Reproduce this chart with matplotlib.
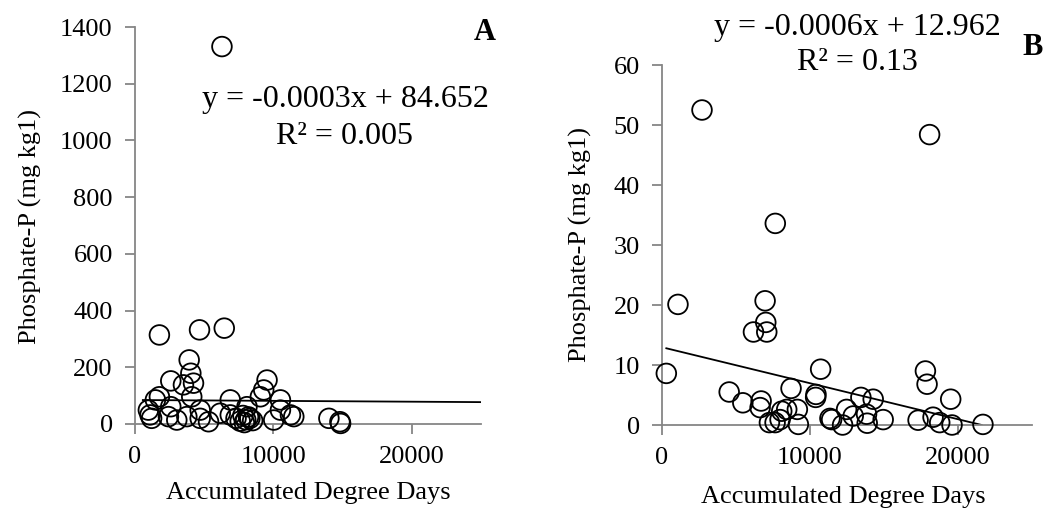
import matplotlib
matplotlib.use("Agg")
import matplotlib.pyplot as plt
import numpy as np

plt.rcParams['font.family'] = ['Liberation Serif', 'DejaVu Serif']

# Panel A: accumulated degree days vs phosphate-P
a_x = [6283, 1763, 4662, 6449, 3913, 4034, 4227, 2585, 3500, 1763, 1473, 966, 1087,
       1200, 4100, 2585, 2415, 3019, 3744, 4710, 4710, 5314, 6159, 6884, 6884, 7300,
       7600, 7800, 8000, 8092, 8300, 8500, 7900, 8200, 9058, 9300, 9541, 10507, 10507,
       10024, 11232, 11473, 14010, 14807, 14855]
a_y = [1331, 314, 332, 338, 226, 179, 144, 152, 138, 96, 85, 49, 32,
       20, 96, 61, 26, 14, 26, 49, 20, 8, 38, 85, 32, 20,
       10, 30, 15, 61, 20, 12, 5, 25, 96, 120, 155, 85, 49,
       14, 32, 26, 20, 8, 2]

# Panel B
b_x = [292, 1079, 2703, 4539, 5461, 6180, 6966, 7011, 7079, 6697, 6629, 7258, 7640,
       7655, 7978, 8090, 8427, 8719, 9146, 9213, 10404, 10382, 10719, 11348, 11460,
       12202, 12472, 12921, 13438, 13820, 13865, 14270, 14944, 17303, 17798, 17910,
       18081, 18315, 18764, 19506, 19596, 21685]
b_y = [8.6, 20.1, 52.5, 5.5, 3.7, 15.5, 20.7, 17.1, 15.5, 4.0, 2.9, 0.4, 0.4,
       33.6, 0.9, 2.3, 2.6, 6.1, 2.6, 0.1, 5.1, 4.6, 9.3, 1.1, 0.9,
       0.0, 2.6, 1.5, 4.6, 1.8, 0.3, 4.3, 0.9, 0.8, 9.0, 6.8,
       48.4, 1.3, 0.4, 4.3, 0.0, 0.1]

a_slope, a_icpt, a_r2 = -0.0003, 84.652, 0.005
b_slope, b_icpt, b_r2 = -0.0006, 12.962, 0.13

W, H = 1049, 508
fig = plt.figure(figsize=(W / 100, H / 100), dpi=100)

def px(x0, y0, x1, y1):
    return [x0 / W, 1 - y1 / H, (x1 - x0) / W, (y1 - y0) / H]

ax1 = fig.add_axes(px(135, 27, 481, 424))
ax2 = fig.add_axes(px(662, 65, 1032, 425))

fs = 19
fs_eq = 23
gray = '#868686'

def style(ax, ymax, ystep):
    ax.set_xlim(0, 25000)
    ax.set_ylim(0, ymax)
    ax.set_xticks([0, 10000, 20000])
    ax.set_yticks(np.arange(0, ymax + 1, ystep))
    for s in ['top', 'right']:
        ax.spines[s].set_visible(False)
    for s in ['left', 'bottom']:
        ax.spines[s].set_color(gray)
        ax.spines[s].set_linewidth(1.3)
    ax.tick_params(axis='both', colors=gray, labelcolor='black', labelsize=fs,
                   length=7, width=1.3, direction='out', pad=9)
    ax.patch.set_alpha(0)

style(ax1, 1400, 200)
style(ax2, 60, 10)

ax1.scatter(a_x, a_y, s=200, facecolors='none', edgecolors='black', linewidths=1.3,
            zorder=3, clip_on=False)
ax2.scatter(b_x, b_y, s=200, facecolors='none', edgecolors='black', linewidths=1.3,
            zorder=3, clip_on=False)

xa = np.array([min(a_x) - 400, 25000])
ax1.plot(xa, a_slope * xa + a_icpt, color='black', lw=1.3, zorder=2)
xb = np.array([min(b_x), b_icpt / -b_slope])
ax2.plot(xb, b_slope * xb + b_icpt, color='black', lw=1.3, zorder=2)

# equations, panel letters, axis labels
fig.text(345 / W, 1 - 100 / H, 'y = -0.0003x + 84.652', ha='center', va='center', fontsize=fs_eq)
fig.text(345 / W, 1 - 137 / H, 'R² = 0.005', ha='center', va='center', fontsize=fs_eq)
fig.text(857 / W, 1 - 27 / H, 'y = -0.0006x + 12.962', ha='center', va='center', fontsize=fs_eq)
fig.text(857 / W, 1 - 62 / H, 'R² = 0.13', ha='center', va='center', fontsize=fs_eq)
fig.text(485 / W, 1 - 33 / H, 'A', ha='center', va='center', fontsize=22, fontweight='bold')
fig.text(1033 / W, 1 - 47 / H, 'B', ha='center', va='center', fontsize=22, fontweight='bold')

fig.text(308 / W, 1 - 493 / H, 'Accumulated Degree Days', ha='center', va='center', fontsize=fs)
fig.text(843 / W, 1 - 497 / H, 'Accumulated Degree Days', ha='center', va='center', fontsize=fs)
fig.text(30 / W, 1 - 226 / H, 'Phosphate-P (mg kg1)', ha='center', va='center',
         rotation=90, fontsize=fs)
fig.text(580 / W, 1 - 245 / H, 'Phosphate-P (mg kg1)', ha='center', va='center',
         rotation=90, fontsize=fs)

fig.savefig('out.png', dpi=100)
